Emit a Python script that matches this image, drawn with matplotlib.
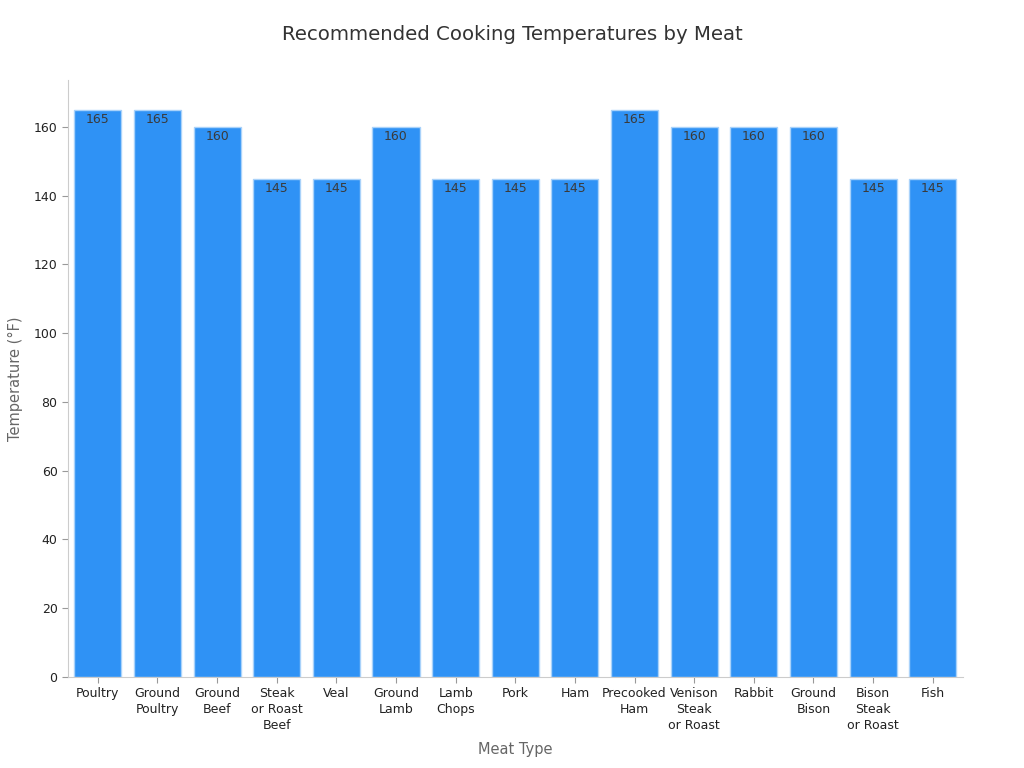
import matplotlib
matplotlib.use('Agg')
import matplotlib.pyplot as plt

# Data
meats = ['Poultry', 'Ground\nPoultry', 'Ground\nBeef', 'Steak\nor Roast\nBeef', 'Veal',
         'Ground\nLamb', 'Lamb\nChops', 'Pork', 'Ham', 'Precooked\nHam',
         'Venison\nSteak\nor Roast', 'Rabbit', 'Ground\nBison', 'Bison\nSteak\nor Roast', 'Fish']
temps = [165, 165, 160, 145, 145, 160, 145, 145, 145, 165, 160, 160, 160, 145, 145]

plt.rcParams['font.family'] = ['DejaVu Sans']

fig = plt.figure(figsize=(10.24, 7.68), dpi=100)
ax = fig.add_axes([0.0664, 0.1185, 0.8736, 0.7775])

x = range(len(meats))
bars = ax.bar(x, temps, width=0.79, color='#2f92f5', edgecolor='#a9d2fa', linewidth=1)

for xi, v in zip(x, temps):
    ax.annotate(str(v), (xi, v), xytext=(0, -2.5), textcoords='offset points',
                ha='center', va='top', fontsize=9, color='#3a3a3a')

ax.set_xlim(-0.5, 14.5)
ax.set_ylim(0, 173.7)
ax.set_yticks(range(0, 161, 20))
ax.set_xticks(list(x))
ax.set_xticklabels(meats, fontsize=9, color='#222222', linespacing=1.3)
ax.tick_params(axis='y', labelsize=9, labelcolor='#222222', color='#999999', length=4)
ax.tick_params(axis='x', color='#999999', length=4)

for s in ['top', 'right']:
    ax.spines[s].set_visible(False)
for s in ['left', 'bottom']:
    ax.spines[s].set_color('#cccccc')

ax.set_xlabel('Meat Type', fontsize=10.5, color='#666666', labelpad=7)
ax.set_ylabel('Temperature (°F)', fontsize=10.5, color='#666666', labelpad=8)
fig.suptitle('Recommended Cooking Temperatures by Meat', fontsize=14.2, color='#333333', y=0.968)

fig.savefig('out.png', dpi=100)
